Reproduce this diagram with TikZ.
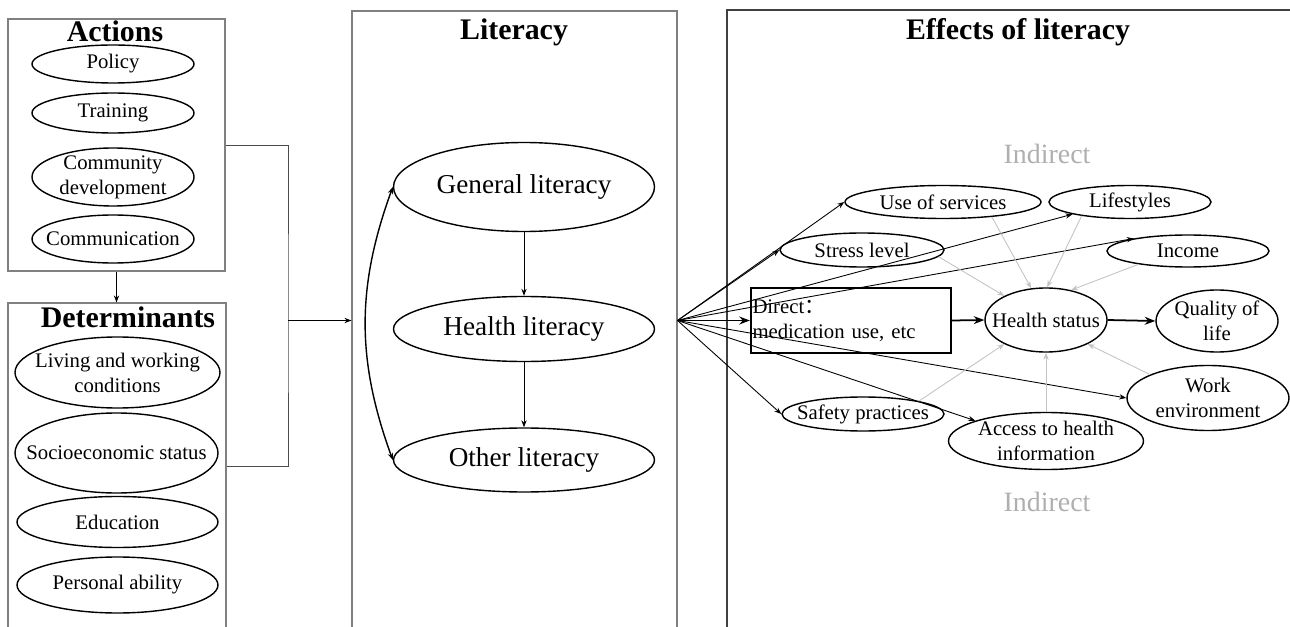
\documentclass[tikz,border=0pt]{standalone}
\usepackage{fontspec}
\setmainfont{Liberation Serif}
\newfontfamily\cjk{Noto Sans CJK SC}
\usetikzlibrary{shapes.geometric, arrows.meta, positioning, calc}
\definecolor{boxgray}{RGB}{128, 128, 128}
\definecolor{indirectgray}{RGB}{175, 175, 175}
\definecolor{linkgray}{RGB}{195, 195, 195}

\begin{document}
\begin{tikzpicture}[
  panel/.style={draw=boxgray, line width=0.6pt, inner sep=0pt},
  paneltitle/.style={anchor=base, font=\fontsize{17}{20}\selectfont\bfseries},
  oval/.style={draw, ellipse, line width=0.8pt, inner xsep=-3cm, inner ysep=-2cm, align=center, font=\fontsize{11.8}{14.2}\selectfont},
  bigoval/.style={oval, minimum width=5.22cm, font=\fontsize{15.5}{18}\selectfont},
  indirect/.style={text=indirectgray, font=\fontsize{15.9}{18}\selectfont},
  link/.style={-{Stealth[length=4pt, width=3pt]}, line width=0.5pt},
  twoway/.style={{Stealth[length=4pt, width=3pt]}-{Stealth[length=4pt, width=3pt]}, line width=0.8pt},
  soft/.style={link, draw=linkgray},
  strong/.style={-{Stealth[length=6pt, width=4.5pt]}, line width=1pt}
]
  \useasboundingbox (0, 0) rectangle (25.8, 12.52);

  % Actions
  \node[panel, minimum width=4.34cm, minimum height=5.04cm] (actions) at (2.33, 9.62) {};
  \node[paneltitle] (actionstitle) at (2.30, 11.68) {Actions};
  \node[oval, minimum width=3.24cm, minimum height=0.76cm] (policy) at (2.26, 11.24) {Policy};
  \node[oval, minimum width=3.24cm, minimum height=0.80cm] (training) at (2.26, 10.26) {Training};
  \node[oval, minimum width=3.24cm, minimum height=1.16cm] (community) at (2.26, 8.98) {Community\\development};
  \node[oval, minimum width=3.24cm, minimum height=0.96cm] (communication) at (2.26, 7.74) {Communication};

  % Determinants
  \node[panel, minimum width=4.36cm, minimum height=6.54cm] (determinants) at (2.34, 3.19) {};
  \node[paneltitle] (determinantstitle) at (2.56, 5.96) {Determinants};
  \node[oval, minimum width=4.10cm, minimum height=1.42cm] (living) at (2.35, 5.07) {Living and working\\conditions};
  \node[oval, minimum width=4.06cm, minimum height=1.60cm] (socio) at (2.33, 3.46) {Socioeconomic status};
  \node[oval, minimum width=4.02cm, minimum height=1.02cm] (education) at (2.35, 2.08) {Education};
  \node[oval, minimum width=4.02cm, minimum height=1.12cm] (ability) at (2.35, 0.82) {Personal ability};

  % Literacy
  \node[panel, minimum width=6.50cm, minimum height=12.38cm] (literacy) at (10.29, 6.11) {};
  \node[paneltitle] (literacytitle) at (10.28, 11.72) {Literacy};
  \node[bigoval, minimum height=1.78cm] (general) at (10.48, 8.78) {General literacy};
  \node[bigoval, minimum height=1.30cm] (healthlit) at (10.48, 5.94) {Health literacy};
  \node[bigoval, minimum height=1.28cm] (other) at (10.48, 3.32) {Other literacy};

  % Joining lines
  \coordinate (merge) at (5.76, 6.11);
  \draw[link] (actions.south) -- (actions.south |- determinants.north);
  \draw[black!70, line width=0.5pt] (actions.east) -| (merge) |- (determinants.east);
  \draw[link] (merge) -- (literacy.west);

  \draw[link] (general) -- (healthlit);
  \draw[link] (healthlit) -- (other);
  \draw[twoway] (general.west) to[bend right=20] (other.west);

  % Effects of literacy
  \node[panel, draw=black!75, minimum width=11.66cm, minimum height=12.62cm] (effects) at (20.37, 6.01) {};
  \node[paneltitle] (effectstitle) at (20.36, 11.72) {Effects of literacy};
  \node[indirect] (indirecttop) at (20.94, 9.44) {Indirect};
  \node[indirect] (indirectbottom) at (20.94, 2.48) {Indirect};

  \node[oval, minimum width=3.92cm, minimum height=0.66cm] (services) at (18.86, 8.48) {Use of services};
  \node[oval, minimum width=3.24cm, minimum height=0.66cm] (lifestyles) at (22.60, 8.48) {Lifestyles};
  \node[oval, minimum width=3.28cm, minimum height=0.68cm] (stress) at (17.24, 7.52) {Stress level};
  \node[oval, minimum width=3.24cm, minimum height=0.64cm] (income) at (23.76, 7.50) {Income};
  \node[draw, line width=1pt, minimum height=1.30cm, text width=3.94cm, inner xsep=1pt, align=left, font=\fontsize{11.8}{14.2}\selectfont] (direct) at (17.02, 6.11) {Direct{\cjk ：}\\medication use, etc};
  \node[oval, minimum width=2.44cm, minimum height=1.28cm] (health) at (20.92, 6.12) {Health status};
  \node[oval, minimum width=2.44cm, minimum height=1.24cm] (quality) at (24.34, 6.10) {Quality of\\life};
  \node[oval, minimum width=3.24cm, minimum height=1.30cm] (work) at (24.16, 4.56) {Work\\environment};
  \node[oval, minimum width=3.24cm, minimum height=0.68cm] (safety) at (17.26, 4.24) {Safety practices};
  \node[oval, minimum width=3.90cm, minimum height=1.14cm] (access) at (20.92, 3.70) {Access to health\\information};

  % Literacy to effects
  \draw[link] (literacy.east) -- (services.west);
  \draw[link] (literacy.east) -- (stress.west);
  \draw[link] (literacy.east) -- (lifestyles.192);
  \draw[link] (literacy.east) -- (income.167);
  \draw[strong] (literacy.east) -- (direct.west);
  \draw[link] (literacy.east) -- (work.west);
  \draw[link] (literacy.east) -- (access.164);
  \draw[link] (literacy.east) -- (safety.west);

  % Indirect paths to health status
  \draw[soft] (services.-17) -- (health.115);
  \draw[soft] (lifestyles.196) -- (health.88);
  \draw[soft] (income.195) -- (health.50);
  \draw[soft] (stress.-5) -- (health.150);
  \draw[soft] (safety.13) -- (health.210);
  \draw[soft] (access.north) -- (health.south);
  \draw[soft] (work.158) -- (health.-30);

  \draw[strong] (direct.east) -- (health.west);
  \draw[strong] (health.east) -- (quality.west);
\end{tikzpicture}
\end{document}
